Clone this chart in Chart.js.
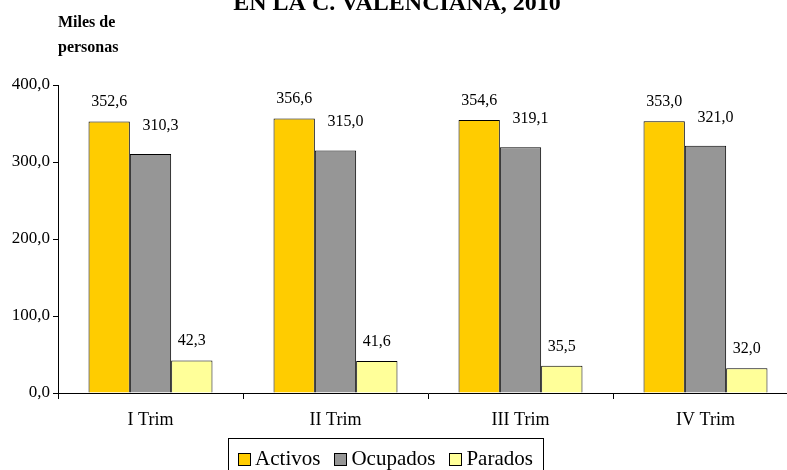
<!DOCTYPE html>
<html>
<head>
<meta charset="utf-8">
<script src="https://cdn.jsdelivr.net/npm/chart.js@4"></script>
<style>
  body { margin: 0; background: #fff; overflow: hidden; }
  #wrap { position: absolute; left: 0; top: 0; }
</style>
</head>
<body>
<div id="wrap"><canvas id="chart" width="800" height="470"></canvas></div>
<script>
const categories = ['I Trim', 'II Trim', 'III Trim', 'IV Trim'];
const seriesNames = ['Activos', 'Ocupados', 'Parados'];
const activos = [352.6, 356.6, 354.6, 353.0];
const ocupados = [310.3, 315.0, 319.1, 321.0];
const parados = [42.3, 41.6, 35.5, 32.0];
const yTicks = [0, 100, 200, 300, 400];

const colors = ['#FFCC00', '#969696', '#FFFF99'];
const serif = "'Liberation Serif', 'Times New Roman', serif";
const fmt = v => v.toFixed(1).replace('.', ',');

// value labels above bars (Excel put the Ocupados ones a bit higher and to the right)
const labelOffsets = [{ dx: 0, dy: 15 }, { dx: 10, dy: 24 }, { dx: 0, dy: 15 }];
const valueLabels = {
  id: 'valueLabels',
  afterDatasetsDraw(chart) {
    const ctx = chart.ctx;
    ctx.save();
    ctx.font = '16px ' + serif;
    ctx.fillStyle = '#000';
    ctx.textAlign = 'center';
    ctx.textBaseline = 'alphabetic';
    chart.data.datasets.forEach((ds, i) => {
      chart.getDatasetMeta(i).data.forEach((bar, j) => {
        const o = labelOffsets[i];
        ctx.fillText(fmt(ds.data[j]), bar.x + o.dx, bar.y - o.dy);
      });
    });
    ctx.restore();
  }
};

// title (cropped at top), unit label and boxed legend
const decorations = {
  id: 'decorations',
  afterDraw(chart) {
    const ctx = chart.ctx;
    ctx.save();
    ctx.fillStyle = '#000';
    ctx.textBaseline = 'alphabetic';
    ctx.textAlign = 'center';
    ctx.font = 'bold 24px ' + serif;
    ctx.fillText('EN LA C. VALENCIANA, 2010', 397, 10);

    ctx.textAlign = 'left';
    ctx.font = 'bold 16px ' + serif;
    ctx.fillText('Miles de', 58, 27);
    ctx.fillText('personas', 58, 52);

    // legend
    ctx.font = '21px ' + serif;
    const box = 12, gap = 5, itemGap = 14, pad = 10;
    const items = chart.data.datasets.map(ds => ({
      text: ds.label, color: ds.backgroundColor, w: box + gap + ctx.measureText(ds.label).width
    }));
    const total = items.reduce((s, it) => s + it.w, 0) + itemGap * (items.length - 1);
    const left = 385.5 - total / 2 - pad;
    ctx.strokeStyle = '#000';
    ctx.lineWidth = 1;
    ctx.strokeRect(Math.round(left) + 0.5, 438.5, Math.round(total + 2 * pad), 40);
    let x = left + pad;
    const base = 465;
    items.forEach(it => {
      ctx.fillStyle = it.color;
      ctx.fillRect(Math.round(x) + 0.5, base - box + 0.5, box, box);
      ctx.strokeRect(Math.round(x) + 0.5, base - box + 0.5, box, box);
      ctx.fillStyle = '#000';
      ctx.fillText(it.text, x + box + gap, base);
      x += it.w + itemGap;
    });
    ctx.restore();
  }
};

const seriesData = [activos, ocupados, parados];

new Chart(document.getElementById('chart'), {
  type: 'bar',
  data: {
    labels: categories,
    datasets: seriesNames.map((name, i) => ({
      label: name,
      data: seriesData[i],
      backgroundColor: colors[i],
      borderColor: '#000',
      borderWidth: 1,
      barPercentage: 1,
      categoryPercentage: 0.67
    }))
  },
  options: {
    responsive: false,
    animation: false,
    layout: { padding: { top: 85, left: 0, right: 2, bottom: 0 } },
    plugins: {
      legend: { display: false },
      tooltip: { enabled: false }
    },
    scales: {
      x: {
        offset: true,
        grid: { offset: true, drawOnChartArea: false, color: '#000', tickLength: 6 },
        border: { color: '#000' },
        ticks: { color: '#000', font: { family: serif, size: 18 }, padding: 10 },
        afterFit: s => { s.height = 77; }
      },
      y: {
        min: 0,
        max: 400,
        afterBuildTicks: s => { s.ticks = yTicks.map(v => ({ value: v })); },
        grid: { drawOnChartArea: false, color: '#000', tickLength: 5 },
        border: { color: '#000' },
        ticks: { color: '#000', font: { family: serif, size: 17 }, padding: 3, callback: v => fmt(v) },
        afterFit: s => { s.width = 58; }
      }
    }
  },
  plugins: [valueLabels, decorations]
});
</script>
</body>
</html>
